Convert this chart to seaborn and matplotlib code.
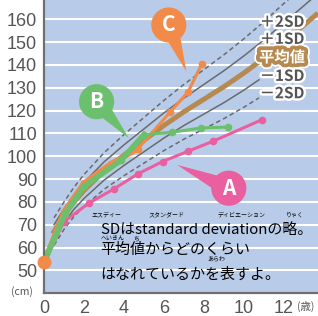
import numpy as np
import pandas as pd
import matplotlib
matplotlib.use('Agg')
import matplotlib.pyplot as plt
import matplotlib.patheffects as pe
import seaborn as sns

# growth reference curves (age in years, height in cm)
sd_age = [0.5, 1, 1.5, 2, 3, 4, 5, 6, 7, 8, 9, 10, 11, 12, 13, 13.6]
mean_h = [67, 74, 80, 85, 93.5, 100.5, 107, 113.5, 119.5, 125, 130.5, 136.5, 143, 150, 157.5, 162]
plus1_h = [70, 77, 83.2, 88.5, 97.5, 105, 112, 119, 125.5, 131.5, 137.5, 144, 151, 158.5, 166, 170.5]
plus2_h = [73, 80, 86.4, 92, 101.5, 109.5, 117, 124.5, 131.5, 138, 144.5, 151.5, 159, 167, 174.5, 179]
low_age = [0.5, 1, 1.5, 2, 3, 4, 5, 6, 7, 8, 9, 10, 10.75]
minus1_h = [64, 71, 76.8, 81.5, 89.5, 96, 102, 108, 113.5, 118.5, 123.5, 129, 133.5]
minus2_h = [61, 68, 73.6, 78, 85.5, 91.5, 97, 102.5, 107.5, 112, 116.5, 121.5, 125.6]

# three children
a_age = [0, 1.0, 2.27, 3.5, 4.7, 5.93, 7.18, 8.43, 10.9]
a_h = [53.5, 71.4, 79.6, 85.7, 92.3, 97.7, 102.1, 106.5, 116]
b_age = [0, 1.05, 2.0, 3.85, 5.0, 6.4, 7.85, 9.2]
b_h = [53.5, 74.8, 86.8, 98.2, 109.5, 110.5, 112.4, 112.8]
c_age = [0, 1.0, 2.0, 3.35, 4.7, 6.3, 7.2, 7.9]
c_h = [53.5, 75.5, 88.2, 96.7, 103.3, 119.3, 128.1, 140.6]

sd_labels = ['＋2SD', '＋1SD', '平均値', '－1SD', '－2SD']
sd_label_y = [158.9, 151.4, 143.4, 135.2, 127.6]

pink = '#ea5f9f'
green = '#6cbf6c'
orange = '#f28a4a'
brown = '#b5894f'
gray = '#6a6a6a'

fig = plt.figure(figsize=(3.18, 3.16), dpi=100)
ax = fig.add_axes([44 / 318, 23 / 316, 274 / 318, 293 / 316])
ax.set_facecolor('#b8cce9')
plt.rcParams['font.family'] = ['Noto Sans CJK JP', 'DejaVu Sans']

# reference curves
sns.lineplot(x=sd_age, y=plus2_h, ax=ax, color=gray, lw=1.1, linestyle=(0, (3, 2)))
sns.lineplot(x=sd_age, y=plus1_h, ax=ax, color=gray, lw=1.1)
sns.lineplot(x=sd_age, y=mean_h, ax=ax, color=brown, lw=3.6)
sns.lineplot(x=low_age, y=minus1_h, ax=ax, color=gray, lw=1.1)
sns.lineplot(x=low_age, y=minus2_h, ax=ax, color=gray, lw=1.1, linestyle=(0, (3, 2)))

# children's records
sns.lineplot(x=a_age, y=a_h, ax=ax, color=pink, lw=2.2, marker='o', markersize=5.5, markeredgewidth=0)
sns.lineplot(x=c_age, y=c_h, ax=ax, color=orange, lw=2.2, marker='o', markersize=5.5, markeredgewidth=0)
sns.lineplot(x=c_age[:5], y=c_h[:5], ax=ax, color=orange, lw=4)
sns.lineplot(x=b_age, y=b_h, ax=ax, color=green, lw=2.2, marker='o', markersize=5.5, markeredgewidth=0)
sns.lineplot(x=b_age[:5], y=b_h[:5], ax=ax, color=green, lw=4)
ax.plot(c_age[0], c_h[0], 'o', color=orange, markersize=9, clip_on=False, zorder=5)

# axes styling
ax.set_xlim(0, 13.7)
ax.set_ylim(40.1, 168.45)
ax.set_xticks(range(0, 13, 2))
ax.set_yticks(range(50, 161, 10))
ax.yaxis.grid(True, color='white', lw=1.5)
ax.xaxis.grid(False)
ax.set_axisbelow(True)
for s in ['top', 'right']:
    ax.spines[s].set_visible(False)
for s in ['left', 'bottom']:
    ax.spines[s].set_color('#707070')
    ax.spines[s].set_linewidth(1.6)
ax.tick_params(length=0, labelsize=13, colors='#555555', pad=5)
for lab in ax.get_xticklabels() + ax.get_yticklabels():
    lab.set_family('Liberation Sans')
ax.set_xlabel('')
ax.set_ylabel('')
fig.text(22 / 318, 1 - 292 / 316, '(cm)', ha='center', va='center', fontsize=7.5, color='#555555')
fig.text(306 / 318, 1 - 306 / 316, '(歳)', ha='center', va='center', fontsize=7.5, color='#555555')

# SD labels
for lab, y in zip(sd_labels, sd_label_y):
    if lab == '平均値':
        ax.text(11.9, y, lab, ha='center', va='center', fontsize=11, fontweight='bold', color='white',
                path_effects=[pe.Stroke(linewidth=8, foreground='white'), pe.Stroke(linewidth=5.5, foreground=brown), pe.Normal()])
    else:
        ax.text(11.9, y, lab, ha='center', va='center', fontsize=11, fontweight='bold', color='#555555',
                path_effects=[pe.withStroke(linewidth=3.5, foreground='white')])

# callouts
callouts = [('A', pink, (6.66, 96.2), (9.24, 86.0)),
            ('B', green, (4.24, 107.9), (2.63, 123.9)),
            ('C', orange, (7.12, 137.1), (6.24, 157.5))]
for letter, col, tip, center in callouts:
    ax.annotate(letter, xy=tip, xytext=center, ha='center', va='center', fontsize=15, color='white',
                fontweight='bold', zorder=6,
                bbox=dict(boxstyle='circle,pad=0.34', fc=col, ec='none'),
                arrowprops=dict(arrowstyle='wedge,tail_width=0.9,shrink_factor=0.5', fc=col, ec='none',
                                patchA=None, shrinkA=0, shrinkB=0))

# note text with ruby
tx = 2.83
ax.text(tx, 67.7, 'SDはstandard deviationの略。', ha='left', va='center', fontsize=10.8, color='black')
ax.text(tx, 59.1, '平均値からどのくらい', ha='left', va='center', fontsize=10.8, color='black')
ax.text(tx, 48.2, 'はなれているかを表すよ。', ha='left', va='center', fontsize=10.8, color='black')
ruby = [('エスディー', 3.13, 74.3), ('スタンダード', 6.13, 74.3), ('ディビエーション', 9.88, 74.3),
        ('りゃく', 12.55, 74.3), ('へいきん', 3.41, 63.8), ('ち', 4.6, 63.8), ('あらわ', 8.6, 55.0)]
for t, x, y in ruby:
    ax.text(x, y, t, ha='center', va='center', fontsize=4.3, color='black')

fig.savefig('out.png', dpi=100, facecolor='white')
